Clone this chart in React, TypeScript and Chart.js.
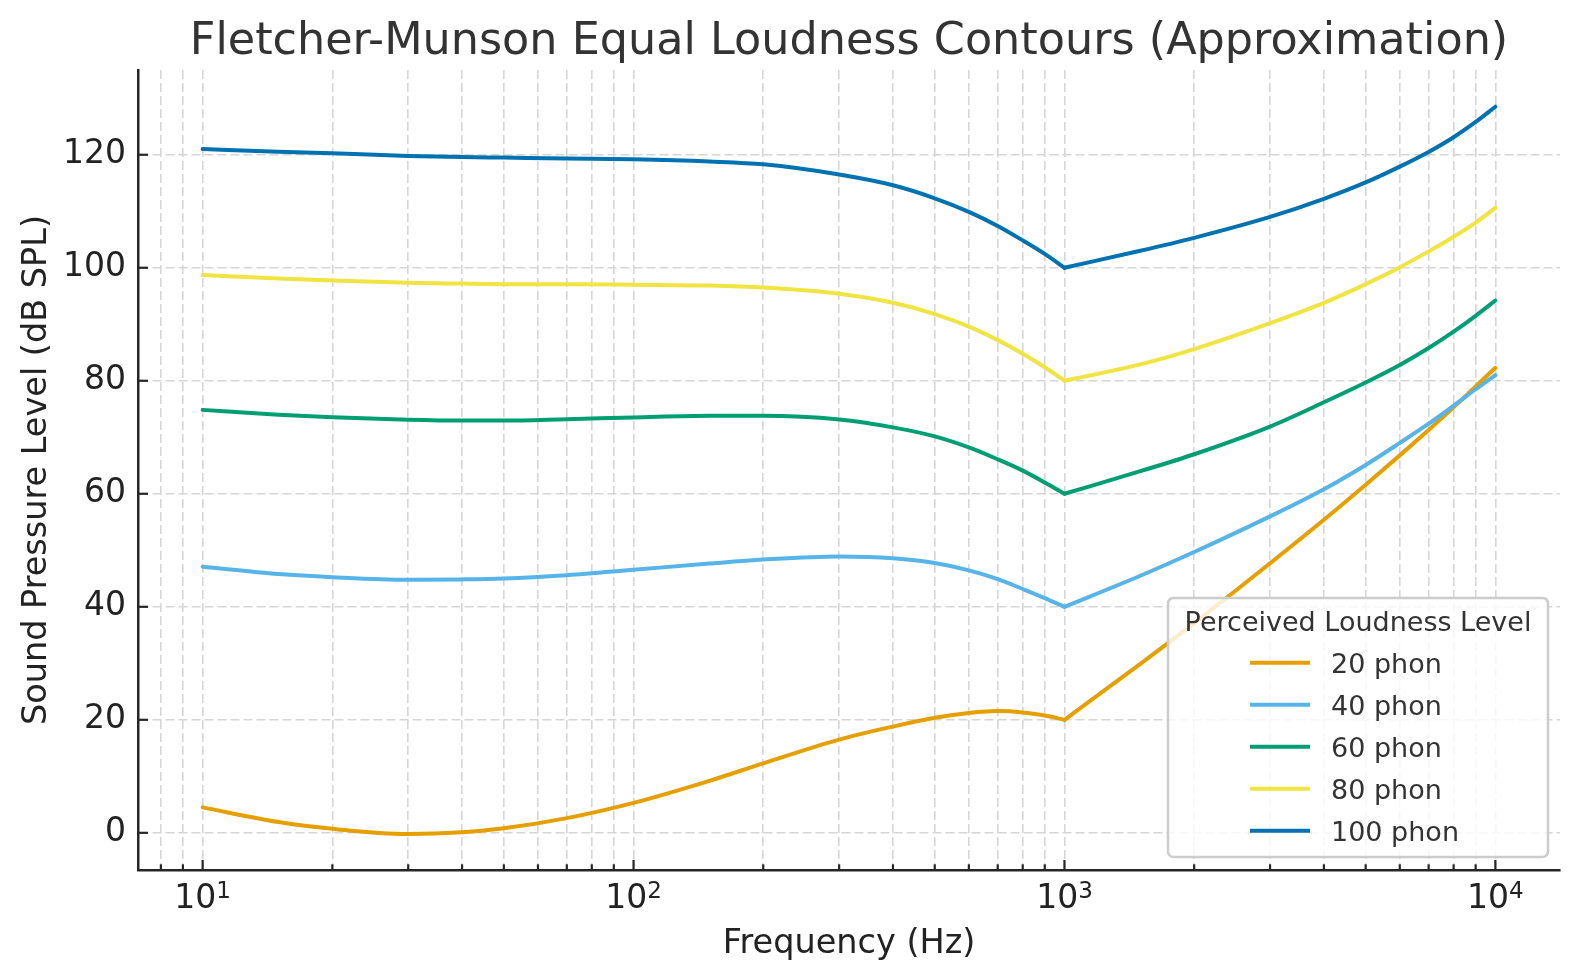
import React, { useEffect, useRef } from 'react';
import { Chart, registerables } from 'chart.js';

Chart.register(...registerables);

// ---------------- data ----------------
const FREQUENCIES = [10, 15, 20, 30, 40, 50, 70, 100, 150, 200, 300, 400, 500, 600, 700, 800, 900, 1000, 1500, 2000, 3000, 4000, 5000, 6000, 7000, 8000, 9000, 10000];

const PHON_20 = [4.5, 1.9, 0.7, -0.2, 0.1, 0.8, 2.6, 5.3, 9.2, 12.3, 16.5, 18.8, 20.35, 21.2, 21.55, 21.3, 20.75, 20.0, 29.9, 37.1, 47.7, 55.4, 61.6, 66.8, 71.3, 75.3, 79.0, 82.3];
const PHON_40 = [47.1, 45.8, 45.25, 44.8, 44.85, 45.0, 45.6, 46.55, 47.65, 48.35, 48.9, 48.6, 47.75, 46.45, 44.9, 43.15, 41.55, 40.0, 45.5, 49.7, 56.0, 60.8, 65.1, 69.0, 72.4, 75.6, 78.5, 81.0];
const PHON_60 = [74.85, 74.0, 73.55, 73.1, 72.95, 72.95, 73.2, 73.5, 73.8, 73.8, 73.15, 71.75, 70.15, 68.2, 66.1, 64.1, 62.0, 60.0, 64.0, 67.0, 71.9, 76.2, 79.7, 82.8, 85.8, 88.7, 91.5, 94.2];
const PHON_80 = [98.7, 98.1, 97.75, 97.35, 97.2, 97.1, 97.1, 97.0, 96.85, 96.5, 95.4, 93.8, 91.8, 89.6, 87.2, 84.8, 82.4, 80.0, 82.9, 85.6, 90.2, 93.8, 97.1, 100.1, 102.9, 105.5, 108.0, 110.6];
const PHON_100 = [121.0, 120.55, 120.25, 119.8, 119.6, 119.5, 119.35, 119.2, 118.8, 118.3, 116.5, 114.6, 112.3, 109.9, 107.4, 104.85, 102.45, 100.0, 103.0, 105.3, 109.0, 112.2, 115.1, 117.9, 120.5, 123.1, 125.8, 128.5];

const SERIES_NAMES = ['20 phon', '40 phon', '60 phon', '80 phon', '100 phon'];
const SERIES_VALUES = [PHON_20, PHON_40, PHON_60, PHON_80, PHON_100];
const SERIES_COLORS = ['#E69F00', '#56B4E9', '#009E73', '#F0E442', '#0072B2'];
const KNEE_FREQUENCY = 1000;

const Y_TICKS = [0, 20, 40, 60, 80, 100, 120];
const X_MAJOR_TICKS = [10, 100, 1000, 10000];
const X_MINOR_TICKS = [8, 9, 20, 30, 40, 50, 60, 70, 80, 90, 200, 300, 400, 500, 600, 700, 800, 900, 2000, 3000, 4000, 5000, 6000, 7000, 8000, 9000];

const X_MIN = Math.pow(10, 0.85);
const X_MAX = Math.pow(10, 4.15);
const Y_MIN = -6.58;
const Y_MAX = 135.0;

const TITLE = 'Fletcher-Munson Equal Loudness Contours (Approximation)';
const X_LABEL = 'Frequency (Hz)';
const Y_LABEL = 'Sound Pressure Level (dB SPL)';
const LEGEND_TITLE = 'Perceived Loudness Level';

// ---------------- styles ----------------
const FONT = '"DejaVu Sans", sans-serif';
const AXIS_COLOR = '#262626';
const GRID_COLOR = '#d6d6d6';
const TEXT_COLOR = '#222222';
const TITLE_COLOR = '#333333';
const LINE_WIDTH = 4;
const TICK_FONT = 33;
const SUP_FONT = 23;

const decorPlugin = {
  id: 'decor',
  afterDraw(chart: any) {
    const { ctx, chartArea, scales } = chart;
    const xs = scales.x;
    const ys = scales.y;
    const { left, right, top, bottom } = chartArea;
    ctx.save();

    // inward tick marks
    ctx.strokeStyle = AXIS_COLOR;
    ctx.lineWidth = 2.2;
    ctx.setLineDash([]);
    const drawTick = (x1: number, y1: number, x2: number, y2: number) => {
      ctx.beginPath();
      ctx.moveTo(x1, y1);
      ctx.lineTo(x2, y2);
      ctx.stroke();
    };
    X_MAJOR_TICKS.forEach((v) => {
      const px = xs.getPixelForValue(v);
      drawTick(px, bottom, px, bottom - 10);
    });
    X_MINOR_TICKS.forEach((v) => {
      const px = xs.getPixelForValue(v);
      drawTick(px, bottom, px, bottom - 5.7);
    });
    Y_TICKS.forEach((v) => {
      const py = ys.getPixelForValue(v);
      drawTick(left, py, left + 10, py);
    });

    // x tick labels 10^n
    ctx.fillStyle = TEXT_COLOR;
    ctx.textBaseline = 'alphabetic';
    ctx.textAlign = 'left';
    X_MAJOR_TICKS.forEach((v) => {
      const px = xs.getPixelForValue(v);
      const exp = String(Math.round(Math.log10(v)));
      ctx.font = `${TICK_FONT}px ${FONT}`;
      const wBase = ctx.measureText('10').width;
      ctx.font = `${SUP_FONT}px ${FONT}`;
      const wSup = ctx.measureText(exp).width;
      const start = px - (wBase + wSup) / 2;
      ctx.font = `${TICK_FONT}px ${FONT}`;
      ctx.fillText('10', start, bottom + 38);
      ctx.font = `${SUP_FONT}px ${FONT}`;
      ctx.fillText(exp, start + wBase, bottom + 27.5);
    });

    const cx = (left + right) / 2;
    // title
    ctx.fillStyle = TITLE_COLOR;
    ctx.textAlign = 'center';
    ctx.font = `44.5px ${FONT}`;
    ctx.fillText(TITLE, cx, 54);

    // axis labels
    ctx.fillStyle = TEXT_COLOR;
    ctx.font = `33.5px ${FONT}`;
    ctx.fillText(X_LABEL, cx, 953);
    ctx.save();
    ctx.translate(46, (top + bottom) / 2);
    ctx.rotate(-Math.PI / 2);
    ctx.fillText(Y_LABEL, 0, 0);
    ctx.restore();

    // legend
    const lx = 1168, ly = 598, lw = 380, lh = 259, r = 6;
    ctx.beginPath();
    ctx.moveTo(lx + r, ly);
    ctx.lineTo(lx + lw - r, ly);
    ctx.quadraticCurveTo(lx + lw, ly, lx + lw, ly + r);
    ctx.lineTo(lx + lw, ly + lh - r);
    ctx.quadraticCurveTo(lx + lw, ly + lh, lx + lw - r, ly + lh);
    ctx.lineTo(lx + r, ly + lh);
    ctx.quadraticCurveTo(lx, ly + lh, lx, ly + lh - r);
    ctx.lineTo(lx, ly + r);
    ctx.quadraticCurveTo(lx, ly, lx + r, ly);
    ctx.closePath();
    ctx.fillStyle = 'rgba(255,255,255,0.8)';
    ctx.fill();
    ctx.strokeStyle = '#cccccc';
    ctx.lineWidth = 2.5;
    ctx.stroke();

    ctx.fillStyle = TITLE_COLOR;
    ctx.font = `27px ${FONT}`;
    ctx.textAlign = 'center';
    ctx.fillText(LEGEND_TITLE, lx + lw / 2, 631);
    ctx.textAlign = 'left';
    SERIES_NAMES.forEach((name, i) => {
      const yy = 662.7 + i * 42;
      ctx.strokeStyle = SERIES_COLORS[i];
      ctx.lineWidth = LINE_WIDTH;
      ctx.lineCap = 'butt';
      ctx.beginPath();
      ctx.moveTo(1250, yy);
      ctx.lineTo(1310, yy);
      ctx.stroke();
      ctx.fillStyle = TITLE_COLOR;
      ctx.fillText(name, 1331, yy + 10.5);
    });

    ctx.restore();
  },
};

export default function App() {
  const ref = useRef<HTMLCanvasElement>(null);

  useEffect(() => {
    document.body.style.margin = '0';
    const canvas = ref.current as HTMLCanvasElement;
    const datasets: any[] = [];
    SERIES_VALUES.forEach((vals, i) => {
      const pts = FREQUENCIES.map((f, j) => ({ x: f, y: vals[j] }));
      const parts = [pts.filter((p) => p.x <= KNEE_FREQUENCY), pts.filter((p) => p.x >= KNEE_FREQUENCY)];
      parts.forEach((data) => {
        datasets.push({
          label: SERIES_NAMES[i],
          data,
          borderColor: SERIES_COLORS[i],
          backgroundColor: SERIES_COLORS[i],
          borderWidth: LINE_WIDTH,
          pointRadius: 0,
          pointHoverRadius: 0,
          fill: false,
          cubicInterpolationMode: 'monotone',
          borderCapStyle: 'round',
          borderJoinStyle: 'round',
          order: SERIES_VALUES.length - i,
        });
      });
    });

    const gridCommon = { color: GRID_COLOR, lineWidth: 1.6, drawTicks: false, drawOnChartArea: true };
    const borderCommon = { display: true, color: AXIS_COLOR, width: 2.5, dash: [9, 4] };

    const chart = new Chart(canvas, {
      type: 'line',
      data: { datasets },
      options: {
        animation: false,
        responsive: false,
        devicePixelRatio: 1,
        events: [],
        layout: { padding: { top: 70, right: 20, bottom: 0, left: 0 } },
        plugins: {
          legend: { display: false },
          title: { display: false },
          tooltip: { enabled: false },
        },
        scales: {
          x: {
            type: 'logarithmic',
            min: X_MIN,
            max: X_MAX,
            bounds: 'data',
            afterBuildTicks: (s: any) => {
              s.ticks = [...X_MINOR_TICKS, ...X_MAJOR_TICKS]
                .sort((a, b) => a - b)
                .map((v) => ({ value: v }));
            },
            afterFit: (s: any) => {
              s.height = 110;
            },
            ticks: { display: false },
            grid: gridCommon,
            border: borderCommon,
          },
          y: {
            type: 'linear',
            min: Y_MIN,
            max: Y_MAX,
            bounds: 'data',
            afterBuildTicks: (s: any) => {
              s.ticks = Y_TICKS.map((v) => ({ value: v }));
            },
            afterFit: (s: any) => {
              s.width = 138;
            },
            ticks: {
              font: { family: FONT, size: TICK_FONT },
              color: TEXT_COLOR,
              padding: 12,
              autoSkip: false,
            },
            grid: gridCommon,
            border: borderCommon,
          },
        },
      } as any,
      plugins: [decorPlugin],
    });

    return () => chart.destroy();
  }, []);

  return <canvas ref={ref} width={1580} height={980} style={{ display: 'block' }} />;
}
